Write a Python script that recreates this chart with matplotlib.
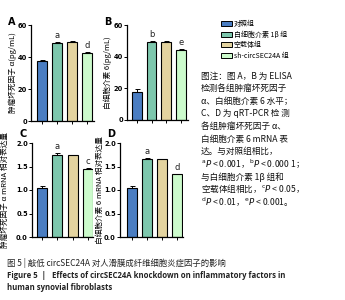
import matplotlib
matplotlib.use("Agg")
import matplotlib.pyplot as plt
from matplotlib.patches import Patch

plt.rcParams['font.family'] = ['Noto Sans CJK SC', 'DejaVu Sans']
plt.rcParams['mathtext.fontset'] = 'dejavusans'

# Data
groups = ["对照组", "白细胞介素 1β 组", "空载体组", "sh-circSEC24A 组"]
colors = ["#4a7dc2", "#7dc7ad", "#e3d39f", "#ccfbcc"]

tnf_protein = [37.5, 48.5, 49.5, 42.5]
tnf_protein_err = [0.5, 0.6, 0.4, 0.5]
il6_protein = [17.5, 49.5, 49.2, 44.0]
il6_protein_err = [2.0, 0.4, 0.4, 0.8]
tnf_mrna = [1.04, 1.75, 1.74, 1.45]
tnf_mrna_err = [0.04, 0.03, 0.01, 0.02]
il6_mrna = [1.04, 1.65, 1.65, 1.33]
il6_mrna_err = [0.04, 0.03, 0.01, 0.01]

tnf_protein_sig = ["", "a", "", "d"]
il6_protein_sig = ["", "b", "", "e"]
tnf_mrna_sig = ["", "a", "", "c"]
il6_mrna_sig = ["", "a", "", "d"]

note_lines = [
    "图注：图 A，B 为 ELISA",
    "检测各组肿瘤坏死因子",
    "α、白细胞介素 6 水平；",
    "C、D 为 qRT-PCR 检 测",
    "各组肿瘤坏死因子 α、",
    "白细胞介素 6 mRNA 表",
    "达。与对照组相比，",
    r"$^{\rm a}\it{P}$ < 0.001，$^{\rm b}\it{P}$ < 0.000 1；",
    "与白细胞介素 1β 组和",
    r"空载体组相比，$^{\rm c}\it{P}$ < 0.05，",
    r"$^{\rm d}\it{P}$ < 0.01，$^{\rm e}\it{P}$ < 0.001。",
]


def draw_panel(fig, rect, values, errors, sig, ylim, yticks, ylabel,
               letter, letter_xy, ylabel_x, xlim):
    ax = fig.add_axes(rect)
    x = list(range(len(values)))
    ax.bar(x, values, width=0.66, color=colors, edgecolor="black",
           linewidth=0.8, zorder=2)
    ax.errorbar(x, values, yerr=[[0] * len(errors), errors], fmt="none",
                ecolor="black", elinewidth=0.7, capsize=1.8,
                capthick=0.7, zorder=3)
    step = ylim[1] / 40
    for xi, v, e, s in zip(x, values, errors, sig):
        if s:
            ax.text(xi, v + e + step, s, ha="center", va="bottom",
                    fontsize=6, family="DejaVu Sans", color="#222222")
    ax.set_ylim(*ylim)
    ax.set_xlim(*xlim)
    ax.set_yticks(yticks)
    ax.set_xticks(x)
    ax.set_xticklabels([])
    ax.tick_params(axis="both", labelsize=4.8, length=2, width=0.7, pad=1)
    for lab in ax.get_yticklabels():
        lab.set_fontweight("bold")
        lab.set_family("DejaVu Sans")
    for side in ["top", "right"]:
        ax.spines[side].set_visible(False)
    for side in ["left", "bottom"]:
        ax.spines[side].set_linewidth(0.9)
    fig.text(ylabel_x, rect[1] + rect[3] / 2, ylabel, rotation=90,
             ha="center", va="center", fontsize=5.5)
    fig.text(letter_xy[0], letter_xy[1], letter, fontsize=7,
             fontweight="bold", family="DejaVu Sans", ha="left", va="center")
    return ax


W, H = 345, 300
fig = plt.figure(figsize=(3.45, 3.0), dpi=100)

draw_panel(fig, [31 / W, 179 / H, 63 / W, 96 / H], tnf_protein,
           tnf_protein_err, tnf_protein_sig, (0, 60), [0, 20, 40, 60],
           "肿瘤坏死因子 α(pg/mL)", "A", (8 / W, 1 - 22 / H), 13 / W,
           (-0.73, 3.47))
draw_panel(fig, [127 / W, 180 / H, 61 / W, 95 / H], il6_protein,
           il6_protein_err, il6_protein_sig, (0, 60), [0, 20, 40, 60],
           "白细胞介素 6(pg/mL)", "B", (104 / W, 1 - 22 / H), 108 / W,
           (-0.68, 3.5))
draw_panel(fig, [32 / W, 63 / H, 61 / W, 94 / H], tnf_mrna,
           tnf_mrna_err, tnf_mrna_sig, (0, 2.0), [0, 0.5, 1.0, 1.5, 2.0],
           "肿瘤坏死因子 α mRNA 相对表达量", "C", (20 / W, 1 - 134 / H),
           5 / W, (-0.68, 3.35))
draw_panel(fig, [120 / W, 63 / H, 63 / W, 94 / H], il6_mrna,
           il6_mrna_err, il6_mrna_sig, (0, 2.0), [0, 0.5, 1.0, 1.5, 2.0],
           "白细胞介素 6 mRNA 相对表达量", "D", (107 / W, 1 - 134 / H),
           100 / W, (-0.8, 3.4))

handles = [Patch(facecolor=c, edgecolor="black", linewidth=0.7)
           for c in colors]
fig.legend(handles, groups, loc="upper left",
           bbox_to_anchor=(218 / W, 1 - 17 / H), frameon=False,
           fontsize=5.0, handlelength=1.6, handleheight=0.7,
           handletextpad=0.3, labelspacing=0.4, borderaxespad=0)

for i, line in enumerate(note_lines):
    fig.text(201 / W, 1 - (76 + i * 12.6) / H, line, fontsize=6.2,
             ha="left", va="center", color="#111111")

fig.text(7 / W, 1 - 263 / H,
         "图 5 | 敲低 circSEC24A 对人滑膜成纤维细胞炎症因子的影响",
         fontsize=6, ha="left", va="center", color="#222222")
fig.text(7 / W, 1 - 275 / H,
         "Figure 5  |   Effects of circSEC24A knockdown on inflammatory factors in",
         fontsize=5.6, fontweight="bold", ha="left", va="center",
         family=["Open Sans", "DejaVu Sans"], color="#222222")
fig.text(7 / W, 1 - 287 / H, "human synovial fibroblasts",
         fontsize=5.6, fontweight="bold", ha="left", va="center",
         family=["Open Sans", "DejaVu Sans"], color="#222222")

fig.savefig("out.png", dpi=100)
